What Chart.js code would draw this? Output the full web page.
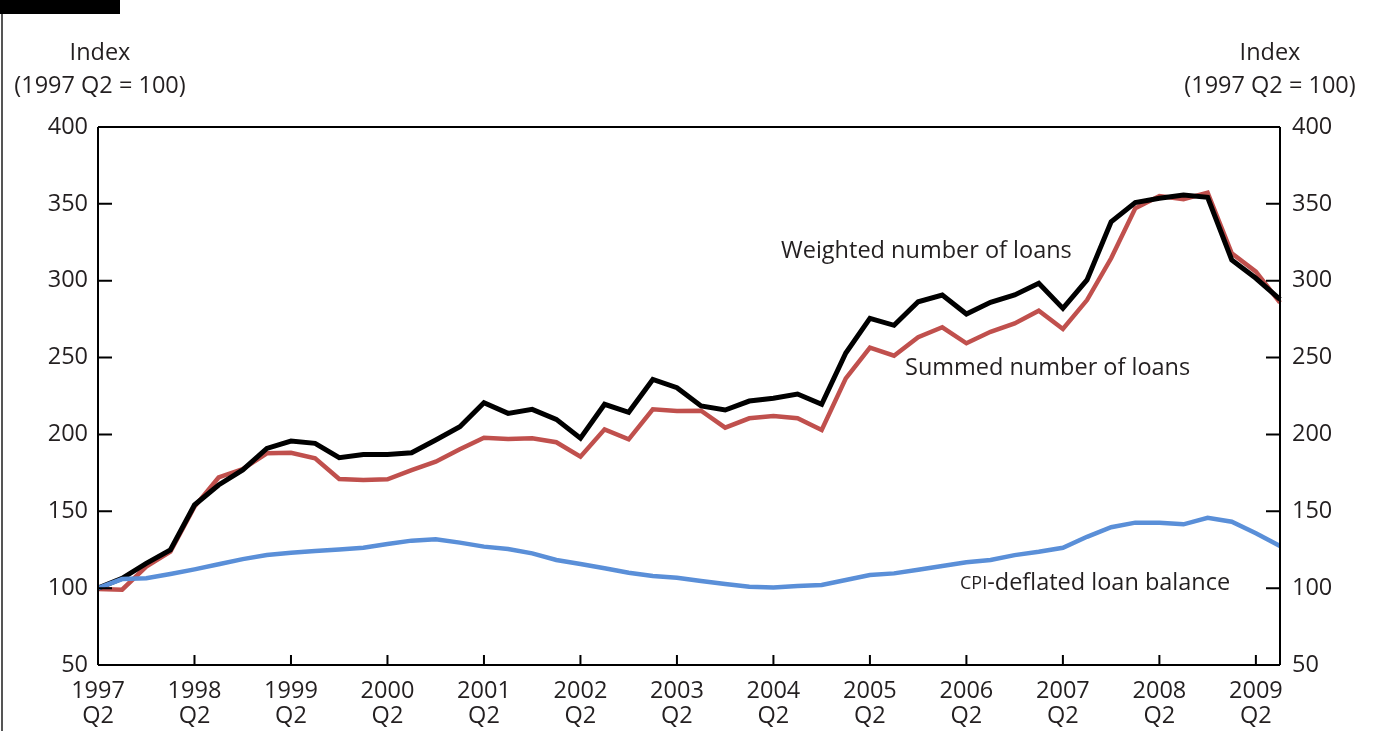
<!DOCTYPE html>
<html>
<head>
<meta charset="utf-8">
<script src="https://cdn.jsdelivr.net/npm/chart.js@4/dist/chart.umd.min.js"></script>
<style>
  html, body { margin: 0; padding: 0; background: #fff; }
  #wrap { position: relative; width: 1376px; height: 731px; }
  #bar { position: absolute; left: 0; top: 0; width: 120px; height: 14px; background: #000; }
  #edge { position: absolute; left: 1px; top: 0; width: 2px; height: 731px; background: #555; }
</style>
</head>
<body>
<div id="wrap">
  <canvas id="chart"></canvas>
  <div id="edge"></div>
  <div id="bar"></div>
</div>
<script>
// quarters, 1997 Q2 .. 2009 Q3
const quarters = [
  '1997 Q2', '1997 Q3', '1997 Q4',
  '1998 Q1', '1998 Q2', '1998 Q3', '1998 Q4',
  '1999 Q1', '1999 Q2', '1999 Q3', '1999 Q4',
  '2000 Q1', '2000 Q2', '2000 Q3', '2000 Q4',
  '2001 Q1', '2001 Q2', '2001 Q3', '2001 Q4',
  '2002 Q1', '2002 Q2', '2002 Q3', '2002 Q4',
  '2003 Q1', '2003 Q2', '2003 Q3', '2003 Q4',
  '2004 Q1', '2004 Q2', '2004 Q3', '2004 Q4',
  '2005 Q1', '2005 Q2', '2005 Q3', '2005 Q4',
  '2006 Q1', '2006 Q2', '2006 Q3', '2006 Q4',
  '2007 Q1', '2007 Q2', '2007 Q3', '2007 Q4',
  '2008 Q1', '2008 Q2', '2008 Q3', '2008 Q4',
  '2009 Q1', '2009 Q2', '2009 Q3'
];

const weighted = [
  100, 106.4, 116.1, 124.8, 154.1, 167.1, 176.9, 190.9, 195.7, 194.2,
  184.9, 187, 187, 188.1, 196.4, 205, 220.6, 213.7, 216.3, 209.8,
  197.5, 219.6, 214.4, 235.8, 230.4, 218.5, 215.9, 221.7, 223.5, 226.3,
  219.6, 253, 275.5, 271, 286.3, 290.7, 278.3, 286, 290.7, 298.3,
  282, 300.5, 338.4, 350.8, 353.6, 355.8, 354.3, 313.5, 301.6, 287.9
];

const summed = [
  99.5, 99, 114, 123.8, 153, 172, 177.5, 187.7, 188.1, 184.4,
  171, 170.3, 170.8, 176.8, 182.3, 190.3, 197.9, 197, 197.5, 194.9,
  185.5, 203.3, 196.8, 216.3, 215.2, 215.4, 204.4, 210.5, 212, 210.5,
  202.9, 236.5, 256.5, 251.2, 263.2, 269.7, 259.3, 266.8, 272.2, 280.5,
  268.6, 287.4, 314.6, 347.1, 355.1, 353, 357.3, 317.8, 305.9, 285.7
];

const cpiBalance = [
  100, 105.9, 106.4, 109.2, 112.2, 115.5, 118.9, 121.5, 123, 124.1,
  125.2, 126.3, 128.7, 130.9, 131.8, 129.6, 127, 125.5, 122.6, 118.3,
  115.7, 112.9, 110, 107.9, 106.8, 104.6, 102.7, 100.9, 100.5, 101.4,
  102, 105.3, 108.5, 109.6, 112, 114.4, 116.8, 118.3, 121.5, 123.7,
  126.3, 133.4, 139.6, 142.6, 142.6, 141.5, 145.8, 143.2, 135.7, 127.4
];

const yTicks = [50, 100, 150, 200, 250, 300, 350, 400];

const TEXT = '#231f20';
const FONT = '"Open Sans", sans-serif';
const SIZE = 23.5;

// frame, inward tick marks, unit labels and line labels
const decorations = {
  id: 'decorations',
  afterDatasetsDraw(chart) {
    const { ctx, chartArea: a, scales } = chart;
    ctx.save();
    ctx.strokeStyle = '#000';
    ctx.lineWidth = 2;
    ctx.beginPath();
    ctx.moveTo(a.left, a.top); ctx.lineTo(a.right, a.top);
    ctx.moveTo(a.right, a.top); ctx.lineTo(a.right, a.bottom);
    ctx.moveTo(a.left, a.top); ctx.lineTo(a.left, a.bottom);
    ctx.moveTo(a.left, a.bottom); ctx.lineTo(a.right, a.bottom);
    yTicks.forEach(v => {
      const py = scales.y.getPixelForValue(v);
      ctx.moveTo(a.left, py); ctx.lineTo(a.left + 14, py);
      ctx.moveTo(a.right, py); ctx.lineTo(a.right - 14, py);
    });
    quarters.forEach((q, i) => {
      if (!q.endsWith('Q2') || i === 0) return;
      const px = scales.x.getPixelForValue(i);
      ctx.moveTo(px, a.bottom); ctx.lineTo(px, a.bottom - 10);
    });
    ctx.stroke();

    ctx.fillStyle = TEXT;
    ctx.textBaseline = 'middle';
    ctx.font = SIZE + 'px ' + FONT;
    ctx.textAlign = 'center';
    ctx.fillText('Index', 100, 53);
    ctx.fillText('(1997 Q2 = 100)', 100, 86);
    ctx.fillText('Index', 1270, 53);
    ctx.fillText('(1997 Q2 = 100)', 1270, 86);

    ctx.textAlign = 'left';
    ctx.fillText('Weighted number of loans', 781, 251);
    ctx.fillText('Summed number of loans', 905, 368);
    ctx.font = '18px ' + FONT;
    ctx.fillText('CPI', 960, 584);
    const w = ctx.measureText('CPI').width;
    ctx.font = SIZE + 'px ' + FONT;
    ctx.fillText('-deflated loan balance', 960 + w, 583);
    ctx.restore();
  }
};

const yScale = (position, width, padding) => ({
  position,
  min: 50,
  max: 400,
  afterBuildTicks: s => { s.ticks = yTicks.map(v => ({ value: v })); },
  afterFit: s => { s.width = width; },
  grid: { display: false, drawTicks: false },
  border: { display: false },
  ticks: { color: TEXT, font: { family: FONT, size: SIZE }, padding }
});

new Chart(document.getElementById('chart'), {
  type: 'line',
  data: {
    labels: quarters,
    datasets: [
      { label: 'CPI-deflated loan balance', data: cpiBalance, borderColor: '#5a8fd8', borderWidth: 4.5, order: 0 },
      { label: 'Weighted number of loans', data: weighted, borderColor: '#000000', borderWidth: 5, order: 1 },
      { label: 'Summed number of loans', data: summed, borderColor: '#c0504d', borderWidth: 4.5, order: 2 }
    ]
  },
  options: {
    responsive: true,
    maintainAspectRatio: false,
    animation: false,
    layout: { padding: { top: 127, left: 0, right: 0, bottom: 0 } },
    elements: {
      point: { radius: 0 },
      line: { tension: 0, borderJoinStyle: 'miter', borderCapStyle: 'butt' }
    },
    plugins: { legend: { display: false }, tooltip: { enabled: false } },
    scales: {
      x: {
        type: 'category',
        offset: false,
        afterFit: s => { s.height = 66; },
        grid: { display: false, drawTicks: false },
        border: { display: false },
        ticks: {
          autoSkip: false,
          maxRotation: 0,
          padding: 13,
          color: TEXT,
          font: { family: FONT, size: SIZE, lineHeight: 1.1 },
          callback: function (value) {
            const q = this.getLabelForValue(value);
            return q.endsWith('Q2') ? [q.slice(0, 4), 'Q2'] : '';
          }
        }
      },
      y: yScale('left', 98, 10),
      y2: yScale('right', 96, 12)
    }
  },
  plugins: [decorations]
});
</script>
</body>
</html>
